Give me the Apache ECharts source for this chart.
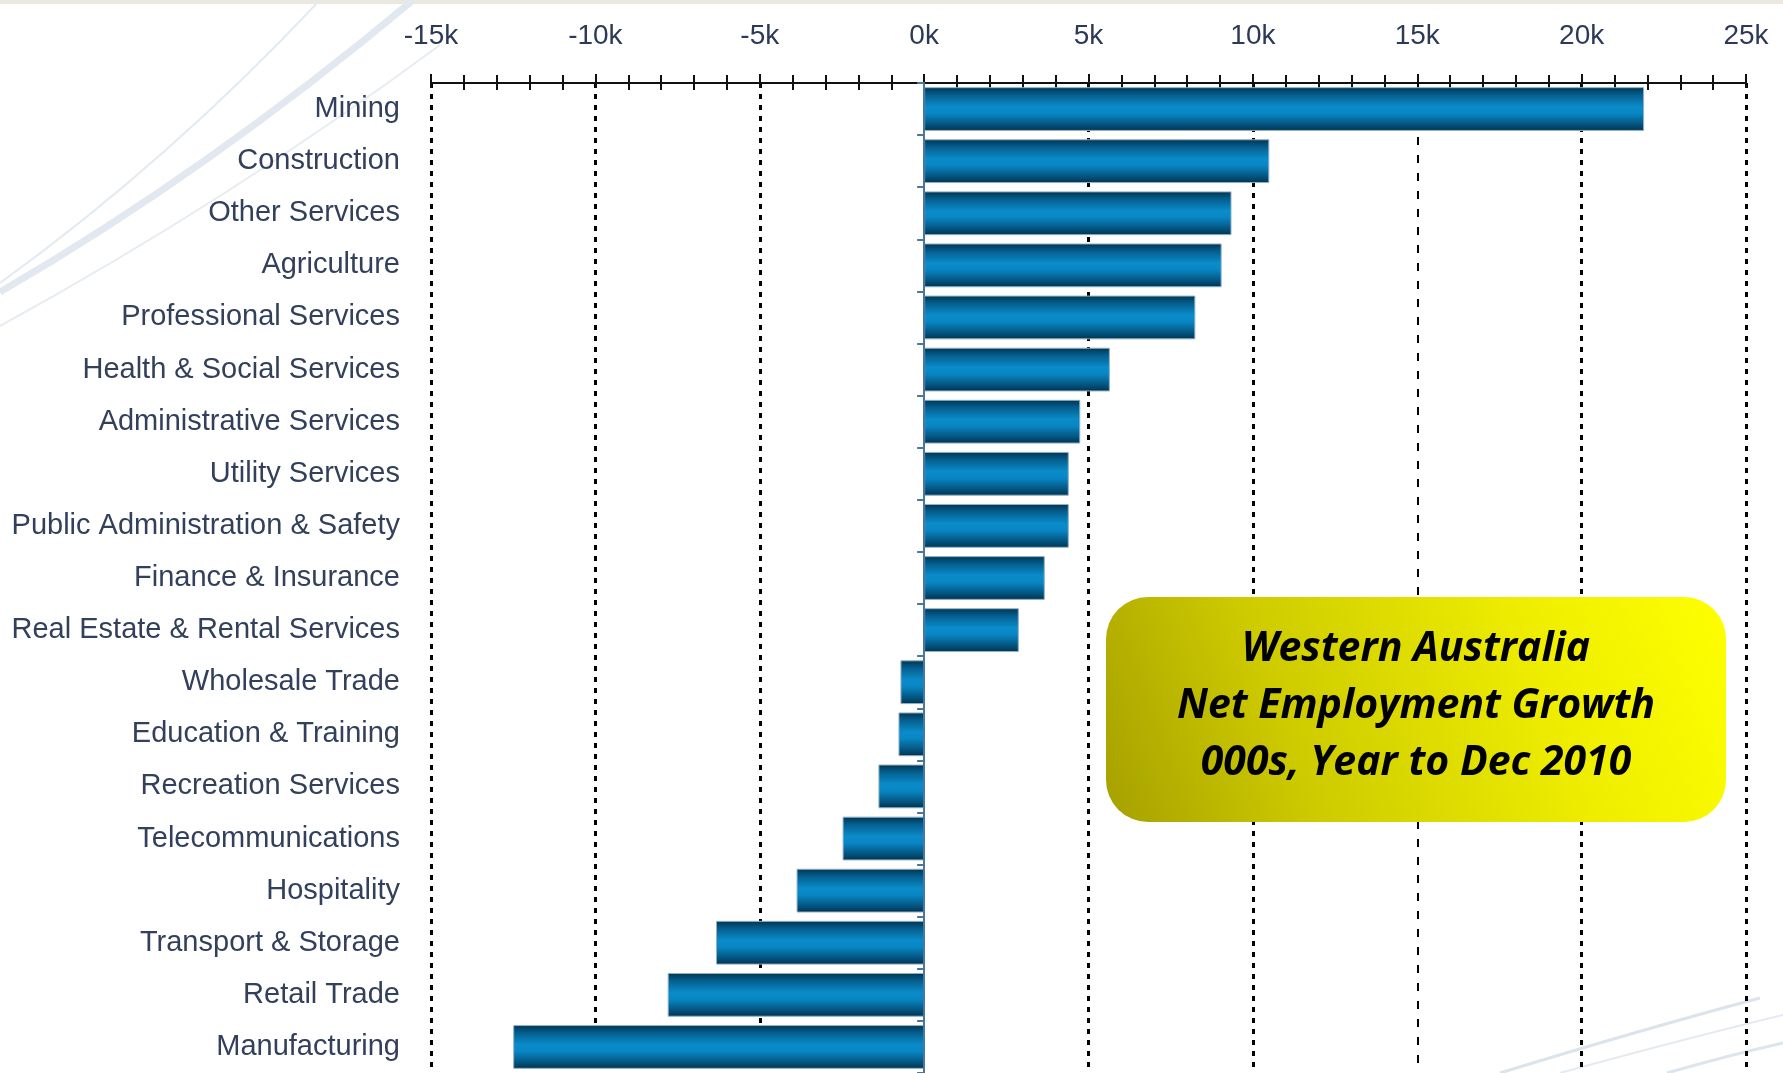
<!DOCTYPE html>
<html>
<head>
<meta charset="utf-8">
<title>Western Australia Net Employment Growth</title>
<script src="https://cdn.jsdelivr.net/npm/echarts@6/dist/echarts.min.js"></script>
<style>
  html, body { margin: 0; padding: 0; background: #fff; }
  #main { width: 1783px; height: 1073px; }
</style>
</head>
<body>
<div id="main"></div>
<script>
// industries, top to bottom
var industries = ['Mining', 'Construction', 'Other Services', 'Agriculture', 'Professional Services',
    'Health & Social Services', 'Administrative Services', 'Utility Services',
    'Public Administration & Safety', 'Finance & Insurance', 'Real Estate & Rental Services',
    'Wholesale Trade', 'Education & Training', 'Recreation Services', 'Telecommunications',
    'Hospitality', 'Transport & Storage', 'Retail Trade', 'Manufacturing'];
// net change in jobs, year to Dec 2010
var growth = [21900, 10500, 9350, 9050, 8250, 5650, 4750, 4400, 4400, 3670, 2880,
    -720, -780, -1390, -2480, -3880, -6330, -7800, -12500];
var titleLines = ['Western Australia', 'Net Employment Growth', '000s, Year to Dec 2010'];

var labelFont = "'Liberation Sans', Arial, sans-serif";
var labelColor = '#33405c';

var chart = echarts.init(document.getElementById('main'));

// gradient for the bars (dark edges, bright middle)
var barFill = new echarts.graphic.LinearGradient(0, 0, 0, 1, [
    {offset: 0, color: '#01344f'},
    {offset: 0.18, color: '#055f8f'},
    {offset: 0.45, color: '#0a8cca'},
    {offset: 0.6, color: '#0886c3'},
    {offset: 0.85, color: '#045480'},
    {offset: 1, color: '#01324c'}
]);

var option = {
    backgroundColor: '#ffffff',
    animation: false,
    grid: { left: 431, right: 37, top: 83, bottom: 0, outerBoundsMode: 'none', containLabel: false },
    xAxis: [{
        type: 'value', position: 'top', min: -15000, max: 25000, interval: 5000,
        axisLine: { show: true, lineStyle: { color: '#111', width: 2 } },
        axisTick: { show: true, length: 9, lineStyle: { color: '#111', width: 2 } },
        minorTick: { show: true, splitNumber: 5, length: 8, lineStyle: { color: '#111', width: 2 } },
        axisLabel: {
            margin: 33, fontFamily: labelFont, fontSize: 28, color: '#2c3a58',
            formatter: function (v) { return (v / 1000) + 'k'; }
        },
        splitLine: {
            show: true,
            lineStyle: {
                // 0 is drawn by the category axis, 15k gets its own dashed line
                color: ['#000', '#000', '#000', 'rgba(0,0,0,0)', '#000', '#000', 'rgba(0,0,0,0)', '#000', '#000'],
                width: 3, type: [5, 6]
            }
        }
    }, {
        type: 'value', position: 'top', min: -15000, max: 25000, interval: 5000,
        axisLine: { show: false },
        axisTick: { show: true, inside: true, length: 5, lineStyle: { color: '#111', width: 2 } },
        minorTick: { show: true, splitNumber: 5, length: 7, lineStyle: { color: '#111', width: 2 } },
        axisLabel: { show: false },
        splitLine: { show: false }
    }],
    yAxis: [{
        type: 'category', data: industries, inverse: true, position: 'left',
        axisLine: { show: false, onZero: false },
        axisTick: { show: false },
        axisLabel: { margin: 31, fontFamily: labelFont, fontSize: 29, color: labelColor }
    }, {
        type: 'category', data: industries, inverse: true, position: 'left', z: 3,
        axisLine: { show: true, onZero: true, onZeroAxisIndex: 0, lineStyle: { color: '#4a76a0', width: 2 } },
        axisTick: { show: true, length: 7, lineStyle: { color: '#4a76a0', width: 2 } },
        axisLabel: { show: false }
    }],
    series: [{
        type: 'bar',
        data: growth,
        barCategoryGap: '16%',
        itemStyle: { color: barFill, borderColor: '#8fb1c9', borderWidth: 1 },
        markLine: {
            silent: true, symbol: 'none', z: 1,
            label: { show: false },
            lineStyle: { color: '#000', width: 2, type: [8, 10] },
            data: [{ xAxis: 15000 }]
        }
    }],
    graphic: [
        // slide background decoration
        { type: 'rect', z: -10, shape: { x: 0, y: 0, width: 1783, height: 4 }, style: { fill: '#ebe9df' } },
        { type: 'bezierCurve', z: -10, shape: { x1: 0, y1: 283, cpx1: 170, cpy1: 160, x2: 320, y2: 0 },
          style: { stroke: '#e3eaf0', lineWidth: 2, fill: null } },
        { type: 'bezierCurve', z: -10, shape: { x1: 0, y1: 292, cpx1: 210, cpy1: 170, x2: 413, y2: 0 },
          style: { stroke: '#e1e8ef', lineWidth: 7, fill: null } },
        { type: 'bezierCurve', z: -10, shape: { x1: 0, y1: 326, cpx1: 230, cpy1: 200, x2: 440, y2: 45 },
          style: { stroke: '#e6ecf2', lineWidth: 2, fill: null } },
        { type: 'bezierCurve', z: -10, shape: { x1: 1500, y1: 1073, cpx1: 1640, cpy1: 1030, x2: 1760, y2: 998 },
          style: { stroke: '#dbe4ec', lineWidth: 3, fill: null } },
        { type: 'bezierCurve', z: -10, shape: { x1: 1560, y1: 1073, cpx1: 1680, cpy1: 1040, x2: 1783, y2: 1015 },
          style: { stroke: '#e4eaf0', lineWidth: 2, fill: null } },
        { type: 'bezierCurve', z: -10, shape: { x1: 1667, y1: 1073, cpx1: 1730, cpy1: 1055, x2: 1783, y2: 1043 },
          style: { stroke: '#dce5ed', lineWidth: 3, fill: null } },
        // title box
        {
            type: 'rect', z: 100,
            shape: { x: 1106, y: 597, width: 620, height: 225, r: 42 },
            style: {
                fill: new echarts.graphic.LinearGradient(0, 1, 1, 0, [
                    {offset: 0, color: '#a6a000'},
                    {offset: 0.3, color: '#cdca00'},
                    {offset: 0.7, color: '#eeed00'},
                    {offset: 1, color: '#ffff00'}
                ])
            }
        },
        {
            type: 'text', z: 101,
            style: {
                x: 1416, y: 706, text: titleLines.join('\n'),
                align: 'center', verticalAlign: 'middle',
                font: 'italic bold 41px "Open Sans", Lato, sans-serif',
                lineHeight: 57, fill: '#000'
            }
        }
    ]
};
chart.setOption(option);
</script>
</body>
</html>
